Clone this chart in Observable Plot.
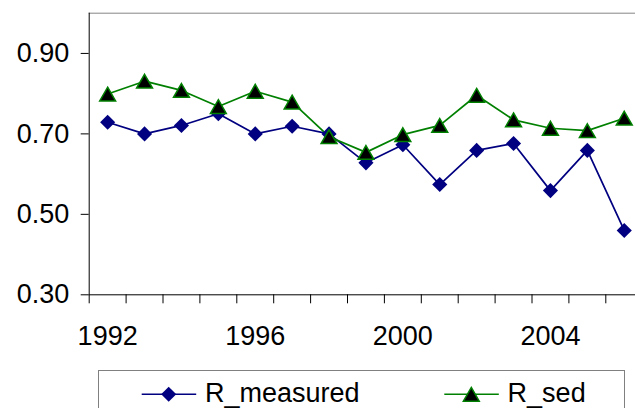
<!DOCTYPE html>
<html>
<head>
<meta charset="utf-8">
<script src="https://cdn.jsdelivr.net/npm/d3@7"></script>
<script src="https://cdn.jsdelivr.net/npm/@observablehq/plot@0.6"></script>
<style>
  html, body { margin: 0; padding: 0; background: #fff; overflow: hidden; }
  #wrap { position: relative; width: 635px; height: 408px; overflow: hidden;
          font-family: "Liberation Sans", Arial, sans-serif; }
  #legend { position: absolute; left: 98px; top: 370px; }
</style>
</head>
<body>
<div id="wrap"></div>
<script>
// Annual correlation coefficients
const years      = [1992, 1993, 1994, 1995, 1996, 1997, 1998, 1999, 2000, 2001, 2002, 2003, 2004, 2005, 2006];
const rMeasured  = [0.729, 0.700, 0.721, 0.750, 0.700, 0.719, 0.700, 0.628, 0.673, 0.574, 0.659, 0.676, 0.559, 0.659, 0.460];
const rSed       = [0.799, 0.831, 0.808, 0.768, 0.806, 0.779, 0.693, 0.654, 0.698, 0.721, 0.796, 0.735, 0.714, 0.708, 0.739];
const yTicks     = [0.30, 0.50, 0.70, 0.90];
const xLabels    = [1992, 1996, 2000, 2004];
const seriesNames  = ["R_measured", "R_sed"];
const seriesColors = ["#000080", "#008000"];

const data = years.map((year, i) => ({year, measured: rMeasured[i], sed: rSed[i]}));

// Category boundaries (Excel-style ticks between the years)
const bounds = years.map(y => y - 0.5).concat([years[years.length - 1] + 0.5]);
const x0 = bounds[0], x1 = bounds[bounds.length - 1];

const font = "Liberation Sans, Arial, sans-serif";
const rDiamond = 6.8, rTriangle = 5.9;
// shift the triangle so its bounding box is centred on the value
const triShift = Math.sqrt(Math.PI * rTriangle * rTriangle / (3 * Math.sqrt(3))) / 2;

const chart = Plot.plot({
  width: 635,
  height: 365,
  marginLeft: 88.7,
  marginRight: 0,
  marginTop: 12.7,
  marginBottom: 365 - 294.3,
  style: {fontFamily: font, fontSize: "27px", color: "#000", background: "#fff"},
  x: {type: "linear", domain: [x0, x1], range: [88.7, 642.2]},
  y: {domain: [0.3, 1.0], range: [294.3, 12.7]},
  marks: [
    Plot.ruleY([1.0], {stroke: "#868686", strokeWidth: 1}),
    Plot.axisY({ticks: yTicks, tickSize: 8, tickPadding: 12, tickFormat: d3.format(".2f"),
                fontSize: 27, label: null}),
    Plot.axisX({ticks: bounds, tickSize: 9, tickFormat: () => "", label: null}),
    Plot.axisX({ticks: xLabels, tickSize: 0, tickPadding: 31, tickFormat: d3.format("d"),
                fontSize: 27, label: null}),
    Plot.ruleX([x0], {stroke: "#000"}),
    Plot.ruleY([0.3], {stroke: "#000"}),
    Plot.line(data, {x: "year", y: "measured", stroke: seriesColors[0], strokeWidth: 1.7}),
    Plot.line(data, {x: "year", y: "sed", stroke: seriesColors[1], strokeWidth: 1.7}),
    Plot.dot(data, {x: "year", y: "measured", symbol: "diamond2", r: rDiamond,
                    fill: seriesColors[0], stroke: "none"}),
    Plot.dot(data, {x: "year", y: "sed", symbol: "triangle", r: rTriangle, dy: triShift,
                    fill: "#000", stroke: seriesColors[1], strokeWidth: 1.5})
  ]
});

const wrap = document.getElementById("wrap");
wrap.appendChild(chart);

// Legend box below the chart
const legend = d3.select(wrap).append("svg")
  .attr("id", "legend")
  .attr("width", 528)
  .attr("height", 40)
  .style("font-family", font);

legend.append("rect")
  .attr("x", 0.5).attr("y", 0.5)
  .attr("width", 526).attr("height", 60)
  .attr("fill", "#fff").attr("stroke", "#808080");

const itemX = [43.7, 346.3];
const cy = 24.3;
seriesNames.forEach((name, i) => {
  const g = legend.append("g").attr("transform", `translate(${itemX[i]},0)`);
  g.append("line")
    .attr("x1", 0).attr("x2", 54.5).attr("y1", cy).attr("y2", cy)
    .attr("stroke", seriesColors[i]).attr("stroke-width", 1.6);
  const sym = i === 0 ? d3.symbolDiamond2 : d3.symbolTriangle;
  const r = i === 0 ? rDiamond : rTriangle;
  g.append("path")
    .attr("d", d3.symbol(sym, Math.PI * r * r)())
    .attr("transform", `translate(27,${cy + (i === 0 ? 0 : triShift)})`)
    .attr("fill", i === 0 ? seriesColors[0] : "#000")
    .attr("stroke", i === 0 ? "none" : seriesColors[1])
    .attr("stroke-width", 1.5);
  g.append("text")
    .attr("x", 63.3).attr("y", 32)
    .attr("font-size", 27)
    .attr("fill", "#000")
    .text(name);
});
</script>
</body>
</html>
